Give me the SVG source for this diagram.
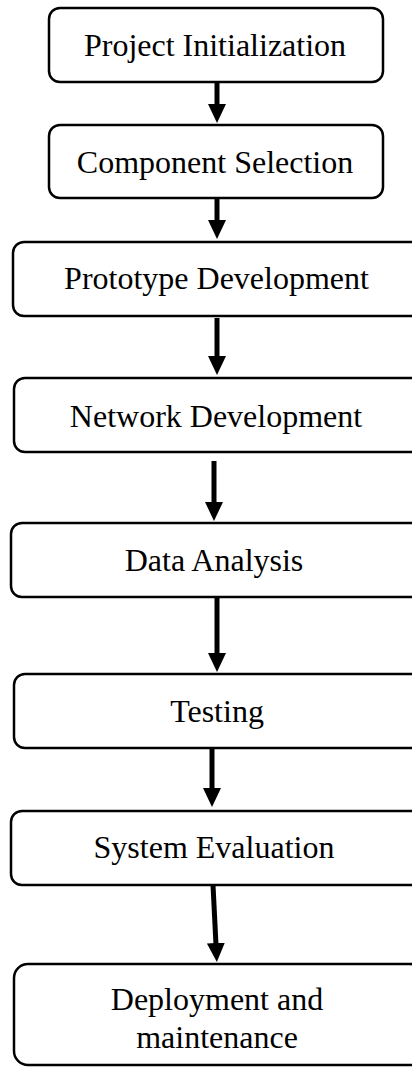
<svg xmlns="http://www.w3.org/2000/svg" width="412" height="1067" viewBox="0 0 412 1067">
  <style>
    .box { fill: #ffffff; stroke: #000000; stroke-width: 2.5; }
    .label { font-family: "Liberation Serif", "Times New Roman", serif; font-size: 32px; fill: #000000; text-anchor: middle; }
    .shaft { stroke: #000000; stroke-width: 5; fill: none; marker-end: url(#head); }
  </style>
  <defs>
    <marker id="head" markerUnits="userSpaceOnUse" markerWidth="20" markerHeight="20" viewBox="0 0 20 20" refX="2" refY="10" orient="auto">
      <path d="M0,1 L19,10 L0,19 Z" fill="#000000"/>
    </marker>
  </defs>
  <rect x="0" y="0" width="412" height="1067" fill="#ffffff"/>

  <!-- process steps -->
  <g id="project-initialization">
    <rect class="box" x="49" y="8" width="334" height="74" rx="11"/>
    <text class="label" x="215" y="56">Project Initialization</text>
  </g>
  <g id="component-selection">
    <rect class="box" x="49" y="125" width="334" height="73" rx="11"/>
    <text class="label" x="215" y="173">Component Selection</text>
  </g>
  <g id="prototype-development">
    <rect class="box" x="13" y="242" width="410" height="74" rx="11"/>
    <text class="label" x="216.5" y="289">Prototype Development</text>
  </g>
  <g id="network-development">
    <rect class="box" x="14" y="378" width="410" height="74" rx="11"/>
    <text class="label" x="216" y="427">Network Development</text>
  </g>
  <g id="data-analysis">
    <rect class="box" x="11" y="523" width="412" height="74" rx="11"/>
    <text class="label" x="214" y="571">Data Analysis</text>
  </g>
  <g id="testing">
    <rect class="box" x="14" y="674" width="410" height="74" rx="11"/>
    <text class="label" x="217" y="722">Testing</text>
  </g>
  <g id="system-evaluation">
    <rect class="box" x="11" y="811" width="412" height="74" rx="11"/>
    <text class="label" x="214" y="858">System Evaluation</text>
  </g>
  <g id="deployment-maintenance">
    <rect class="box" x="14" y="964" width="410" height="101" rx="14"/>
    <text class="label" x="217" y="1010">Deployment and</text>
    <text class="label" x="217" y="1048">maintenance</text>
  </g>

  <!-- connectors -->
  <g id="connectors">
    <line class="shaft" x1="217" y1="82" x2="217" y2="106"/>
    <line class="shaft" x1="217" y1="198" x2="217" y2="222"/>
    <line class="shaft" x1="217" y1="318" x2="217" y2="358"/>
    <line class="shaft" x1="214" y1="461" x2="214" y2="504"/>
    <line class="shaft" x1="217" y1="597" x2="217" y2="655"/>
    <line class="shaft" x1="212" y1="748" x2="212" y2="790"/>
    <line class="shaft" x1="213" y1="885" x2="216" y2="945"/>
  </g>
</svg>
